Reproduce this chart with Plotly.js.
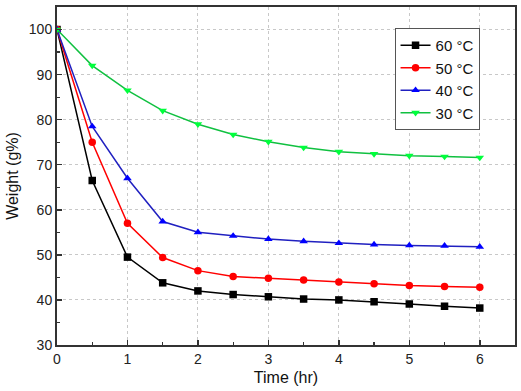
<!DOCTYPE html>
<html><head><meta charset="utf-8">
<script src="https://cdn.plot.ly/plotly-3.0.1.min.js"></script>
<style>body{margin:0;background:#fff}#c{width:521px;height:391px}</style>
</head><body><div id="c"></div>
<script>
const time = [0, 0.5, 1, 1.5, 2, 2.5, 3, 3.5, 4, 4.5, 5, 5.5, 6];
const w60 = [100, 66.5, 49.5, 43.8, 42.0, 41.2, 40.7, 40.2, 40.0, 39.6, 39.1, 38.6, 38.2];
const w50 = [100, 75.0, 57.0, 49.4, 46.5, 45.2, 44.8, 44.4, 44.0, 43.6, 43.2, 43.0, 42.8];
const w40 = [100, 78.5, 67.0, 57.4, 55.0, 54.2, 53.5, 53.0, 52.6, 52.3, 52.1, 52.0, 51.8];
const w30 = [100, 92.0, 86.5, 82.0, 79.0, 76.7, 75.1, 73.8, 72.9, 72.4, 72.0, 71.8, 71.6];
const names = ['60 °C', '50 °C', '40 °C', '30 °C'];
const series = [w60, w50, w40, w30];
const colors = ['#000000', '#ff0000', '#0000ff', '#00ff3c'];
const symbols = ['square', 'circle', 'triangle-up', 'triangle-down'];
const lineColors = ['#000000', '#ff0000', '#2020c0', '#10c040'];
const FONT = 'Liberation Sans, Arial, sans-serif';

const traces = series.map((s, i) => ({
  x: time, y: s, name: names[i], type: 'scatter', mode: 'lines+markers',
  line: {color: lineColors[i], width: 1.5},
  marker: {color: colors[i], symbol: symbols[i], size: 7.5}
}));

const axisCommon = {
  showline: true, linecolor: '#333', linewidth: 2, mirror: true,
  ticks: 'inside', ticklen: 5, tickwidth: 1.5, tickcolor: '#333',
  showgrid: true, gridcolor: '#c8c8c8', griddash: 'dot', gridwidth: 1,
  zeroline: false,
  tickfont: {family: FONT, size: 14, color: '#222'},
  minor: {ticks: 'inside', ticklen: 3, tickwidth: 1.2, tickcolor: '#333', showgrid: false}
};

const layout = {
  width: 521, height: 391,
  margin: {l: 57, r: 6, t: 7, b: 46},
  paper_bgcolor: '#fff', plot_bgcolor: '#fff',
  showlegend: true,
  legend: {x: 0.737, y: 0.938, xanchor: 'left', yanchor: 'top',
    bordercolor: '#555', borderwidth: 1, bgcolor: '#fff',
    font: {family: FONT, size: 15, color: '#111'},
    tracegroupgap: 0, itemwidth: 30},
  xaxis: Object.assign({}, axisCommon, {
    range: [0, 6.5], tickvals: [0,1,2,3,4,5,6],
    minor: Object.assign({}, axisCommon.minor, {tickvals: [0.5,1.5,2.5,3.5,4.5,5.5]}),
    title: {text: 'Time (hr)', font: {family: FONT, size: 16, color: '#111'}, standoff: 6}
  }),
  yaxis: Object.assign({}, axisCommon, {
    range: [30, 105], tickvals: [30,40,50,60,70,80,90,100],
    minor: Object.assign({}, axisCommon.minor, {tickvals: [35,45,55,65,75,85,95]}),
    title: {text: 'Weight (g%)', font: {family: FONT, size: 16, color: '#111'}, standoff: 6}
  })
};
Plotly.newPlot('c', traces, layout, {displayModeBar: false, staticPlot: true});
</script></body></html>
